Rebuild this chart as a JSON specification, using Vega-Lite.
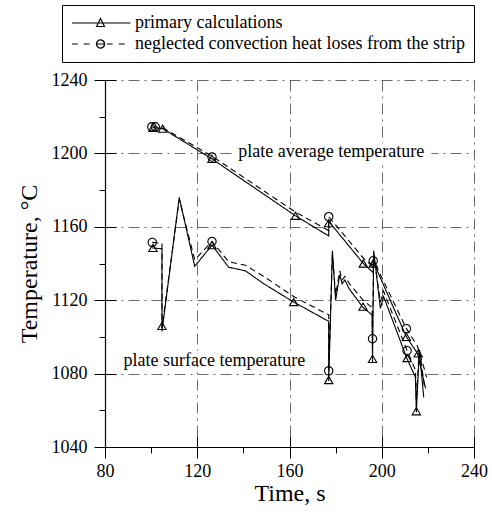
{
  "$schema": "https://vega.github.io/schema/vega-lite/v6.json",
  "width": 369,
  "height": 367,
  "autosize": "none",
  "padding": {"left": 105, "top": 80, "right": 18, "bottom": 67},
  "background": "white",
  "config": {
    "font": "Liberation Serif",
    "view": {"stroke": null},
    "axis": {"labelFont": "Liberation Serif", "titleFont": "Liberation Serif", "labelColor": "black", "titleColor": "black", "tickColor": "black", "domainColor": "black"},
    "legend": {"labelFont": "Liberation Serif", "labelFontSize": 18, "labelColor": "black"}
  },
  "datasets": {
    "lines": [
      {"s": "primary calculations", "c": "avg", "i": 1, "t": 100.5, "T": 1214},
      {"s": "primary calculations", "c": "avg", "i": 2, "t": 105, "T": 1213.5},
      {"s": "primary calculations", "c": "avg", "i": 3, "t": 126.4, "T": 1197},
      {"s": "primary calculations", "c": "avg", "i": 4, "t": 162.6, "T": 1166},
      {"s": "primary calculations", "c": "avg", "i": 5, "t": 177, "T": 1155},
      {"s": "primary calculations", "c": "avg", "i": 6, "t": 177, "T": 1163},
      {"s": "primary calculations", "c": "avg", "i": 7, "t": 192, "T": 1140},
      {"s": "primary calculations", "c": "avg", "i": 8, "t": 196.3, "T": 1135},
      {"s": "primary calculations", "c": "avg", "i": 9, "t": 196.3, "T": 1141},
      {"s": "primary calculations", "c": "avg", "i": 10, "t": 210.7, "T": 1100},
      {"s": "primary calculations", "c": "avg", "i": 11, "t": 215.5, "T": 1091},
      {"s": "primary calculations", "c": "avg", "i": 12, "t": 219, "T": 1072},
      {"s": "neglected convection heat loses from the strip", "c": "avg", "i": 1, "t": 100.5, "T": 1214.5},
      {"s": "neglected convection heat loses from the strip", "c": "avg", "i": 2, "t": 105, "T": 1214},
      {"s": "neglected convection heat loses from the strip", "c": "avg", "i": 3, "t": 126.4, "T": 1198.5},
      {"s": "neglected convection heat loses from the strip", "c": "avg", "i": 4, "t": 162.6, "T": 1168},
      {"s": "neglected convection heat loses from the strip", "c": "avg", "i": 5, "t": 177, "T": 1158},
      {"s": "neglected convection heat loses from the strip", "c": "avg", "i": 6, "t": 177, "T": 1165.5},
      {"s": "neglected convection heat loses from the strip", "c": "avg", "i": 7, "t": 192, "T": 1143},
      {"s": "neglected convection heat loses from the strip", "c": "avg", "i": 8, "t": 196.3, "T": 1138},
      {"s": "neglected convection heat loses from the strip", "c": "avg", "i": 9, "t": 196.3, "T": 1142},
      {"s": "neglected convection heat loses from the strip", "c": "avg", "i": 10, "t": 210.7, "T": 1104.5},
      {"s": "neglected convection heat loses from the strip", "c": "avg", "i": 11, "t": 215.5, "T": 1095},
      {"s": "neglected convection heat loses from the strip", "c": "avg", "i": 12, "t": 219.5, "T": 1078},
      {"s": "primary calculations", "c": "surf", "i": 1, "t": 100.5, "T": 1148.5},
      {"s": "primary calculations", "c": "surf", "i": 2, "t": 104.7, "T": 1148},
      {"s": "primary calculations", "c": "surf", "i": 3, "t": 104.7, "T": 1103},
      {"s": "primary calculations", "c": "surf", "i": 4, "t": 112.2, "T": 1176},
      {"s": "primary calculations", "c": "surf", "i": 5, "t": 118.9, "T": 1138.5},
      {"s": "primary calculations", "c": "surf", "i": 6, "t": 126.4, "T": 1150},
      {"s": "primary calculations", "c": "surf", "i": 7, "t": 133.6, "T": 1138},
      {"s": "primary calculations", "c": "surf", "i": 8, "t": 140.9, "T": 1136},
      {"s": "primary calculations", "c": "surf", "i": 9, "t": 148.8, "T": 1129},
      {"s": "primary calculations", "c": "surf", "i": 10, "t": 161.8, "T": 1119},
      {"s": "primary calculations", "c": "surf", "i": 11, "t": 177, "T": 1108.5},
      {"s": "primary calculations", "c": "surf", "i": 12, "t": 177, "T": 1076},
      {"s": "primary calculations", "c": "surf", "i": 13, "t": 178.6, "T": 1147},
      {"s": "primary calculations", "c": "surf", "i": 14, "t": 180, "T": 1120},
      {"s": "primary calculations", "c": "surf", "i": 15, "t": 181.8, "T": 1134},
      {"s": "primary calculations", "c": "surf", "i": 16, "t": 182.8, "T": 1129},
      {"s": "primary calculations", "c": "surf", "i": 17, "t": 184, "T": 1131},
      {"s": "primary calculations", "c": "surf", "i": 18, "t": 186, "T": 1126},
      {"s": "primary calculations", "c": "surf", "i": 19, "t": 191.9, "T": 1116},
      {"s": "primary calculations", "c": "surf", "i": 20, "t": 195.8, "T": 1112},
      {"s": "primary calculations", "c": "surf", "i": 21, "t": 196, "T": 1086},
      {"s": "primary calculations", "c": "surf", "i": 22, "t": 196.5, "T": 1147},
      {"s": "primary calculations", "c": "surf", "i": 23, "t": 199.4, "T": 1115.5},
      {"s": "primary calculations", "c": "surf", "i": 24, "t": 200.8, "T": 1122},
      {"s": "primary calculations", "c": "surf", "i": 25, "t": 202, "T": 1118},
      {"s": "primary calculations", "c": "surf", "i": 26, "t": 211, "T": 1088},
      {"s": "primary calculations", "c": "surf", "i": 27, "t": 214.6, "T": 1078},
      {"s": "primary calculations", "c": "surf", "i": 28, "t": 215, "T": 1059},
      {"s": "primary calculations", "c": "surf", "i": 29, "t": 216.3, "T": 1093},
      {"s": "primary calculations", "c": "surf", "i": 30, "t": 218.2, "T": 1067},
      {"s": "neglected convection heat loses from the strip", "c": "surf", "i": 1, "t": 100.5, "T": 1151.5},
      {"s": "neglected convection heat loses from the strip", "c": "surf", "i": 2, "t": 104.7, "T": 1151},
      {"s": "neglected convection heat loses from the strip", "c": "surf", "i": 3, "t": 104.7, "T": 1105},
      {"s": "neglected convection heat loses from the strip", "c": "surf", "i": 4, "t": 112.2, "T": 1175},
      {"s": "neglected convection heat loses from the strip", "c": "surf", "i": 5, "t": 118.9, "T": 1142},
      {"s": "neglected convection heat loses from the strip", "c": "surf", "i": 6, "t": 126.4, "T": 1152},
      {"s": "neglected convection heat loses from the strip", "c": "surf", "i": 7, "t": 133.6, "T": 1141},
      {"s": "neglected convection heat loses from the strip", "c": "surf", "i": 8, "t": 140.9, "T": 1139},
      {"s": "neglected convection heat loses from the strip", "c": "surf", "i": 9, "t": 148.8, "T": 1133},
      {"s": "neglected convection heat loses from the strip", "c": "surf", "i": 10, "t": 161.8, "T": 1122},
      {"s": "neglected convection heat loses from the strip", "c": "surf", "i": 11, "t": 177, "T": 1112},
      {"s": "neglected convection heat loses from the strip", "c": "surf", "i": 12, "t": 177, "T": 1081},
      {"s": "neglected convection heat loses from the strip", "c": "surf", "i": 13, "t": 178.6, "T": 1145},
      {"s": "neglected convection heat loses from the strip", "c": "surf", "i": 14, "t": 180, "T": 1123},
      {"s": "neglected convection heat loses from the strip", "c": "surf", "i": 15, "t": 181.8, "T": 1136},
      {"s": "neglected convection heat loses from the strip", "c": "surf", "i": 16, "t": 182.8, "T": 1131},
      {"s": "neglected convection heat loses from the strip", "c": "surf", "i": 17, "t": 184, "T": 1133},
      {"s": "neglected convection heat loses from the strip", "c": "surf", "i": 18, "t": 186, "T": 1129},
      {"s": "neglected convection heat loses from the strip", "c": "surf", "i": 19, "t": 191.9, "T": 1120},
      {"s": "neglected convection heat loses from the strip", "c": "surf", "i": 20, "t": 195.8, "T": 1116},
      {"s": "neglected convection heat loses from the strip", "c": "surf", "i": 21, "t": 196, "T": 1099},
      {"s": "neglected convection heat loses from the strip", "c": "surf", "i": 22, "t": 196.5, "T": 1145},
      {"s": "neglected convection heat loses from the strip", "c": "surf", "i": 23, "t": 199.4, "T": 1119},
      {"s": "neglected convection heat loses from the strip", "c": "surf", "i": 24, "t": 200.8, "T": 1125},
      {"s": "neglected convection heat loses from the strip", "c": "surf", "i": 25, "t": 202, "T": 1121},
      {"s": "neglected convection heat loses from the strip", "c": "surf", "i": 26, "t": 211, "T": 1092.5},
      {"s": "neglected convection heat loses from the strip", "c": "surf", "i": 27, "t": 214.6, "T": 1082},
      {"s": "neglected convection heat loses from the strip", "c": "surf", "i": 28, "t": 215, "T": 1066},
      {"s": "neglected convection heat loses from the strip", "c": "surf", "i": 29, "t": 216.3, "T": 1094},
      {"s": "neglected convection heat loses from the strip", "c": "surf", "i": 30, "t": 218.6, "T": 1072}
    ],
    "marks": [
      {"k": "P", "t": 100.8, "T": 1214},
      {"k": "P", "t": 105, "T": 1213.5},
      {"k": "P", "t": 126.4, "T": 1197},
      {"k": "P", "t": 162.6, "T": 1166},
      {"k": "P", "t": 177, "T": 1162},
      {"k": "P", "t": 192, "T": 1140},
      {"k": "P", "t": 196.3, "T": 1140},
      {"k": "P", "t": 210.7, "T": 1100},
      {"k": "P", "t": 215.8, "T": 1091},
      {"k": "P", "t": 100.8, "T": 1148.5},
      {"k": "P", "t": 104.7, "T": 1106},
      {"k": "P", "t": 126.4, "T": 1150},
      {"k": "P", "t": 161.8, "T": 1119},
      {"k": "P", "t": 177, "T": 1076.5},
      {"k": "P", "t": 191.9, "T": 1116.5},
      {"k": "P", "t": 196, "T": 1088},
      {"k": "P", "t": 211, "T": 1088.5},
      {"k": "P", "t": 215, "T": 1059.5},
      {"k": "N", "t": 100.3, "T": 1214.5},
      {"k": "N", "t": 101.8, "T": 1214.5},
      {"k": "N", "t": 126.4, "T": 1198},
      {"k": "N", "t": 177, "T": 1165.5},
      {"k": "N", "t": 196.3, "T": 1141.5},
      {"k": "N", "t": 210.7, "T": 1104.5},
      {"k": "N", "t": 100.5, "T": 1151.5},
      {"k": "N", "t": 126.4, "T": 1152},
      {"k": "N", "t": 177, "T": 1081.5},
      {"k": "N", "t": 196, "T": 1099},
      {"k": "N", "t": 211, "T": 1092.5}
    ],
    "notes": [
      {"label": "plate average temperature", "t": 137.8, "T": 1200.5},
      {"label": "plate surface temperature", "t": 88, "T": 1087}
    ],
    "boxes": [
      {"t0": 136, "t1": 221.5, "T0": 1195.5, "T1": 1205.5},
      {"t0": 87, "t1": 170, "T0": 1084, "T1": 1092.5}
    ]
  },
  "layer": [
    {
      "data": {"name": "boxes"},
      "mark": {"type": "rect", "fill": "white"},
      "encoding": {
        "x": {"field": "t0", "type": "quantitative", "scale": {"domain": [80, 240], "nice": false, "zero": false},
              "axis": {"orient": "bottom", "values": [100, 140, 180, 220], "tickSize": 6, "labels": false, "domain": false, "grid": false, "title": null}},
        "x2": {"field": "t1"},
        "y": {"field": "T0", "type": "quantitative", "scale": {"domain": [1040, 1240], "nice": false, "zero": false},
              "axis": {"orient": "left", "values": [1060, 1100, 1140, 1180, 1220], "tickSize": 6, "labels": false, "domain": false, "grid": false, "title": null}},
        "y2": {"field": "T1"}
      }
    },
    {
      "data": {"name": "lines"},
      "mark": {"type": "line", "color": "black", "strokeWidth": 1.1},
      "encoding": {
        "x": {"field": "t", "type": "quantitative",
              "axis": {"orient": "bottom", "values": [80, 120, 160, 200, 240], "format": "d", "title": "Time, s", "grid": true, "gridDash": [11, 5, 2, 5], "gridColor": "#6a6a6a", "gridWidth": 1, "tickSize": 11, "domainWidth": 1.2, "labelFontSize": 18, "labelPadding": 4, "titleFontSize": 24, "titleFontWeight": "normal", "titlePadding": 1, "labelFlush": false}},
        "y": {"field": "T", "type": "quantitative",
              "axis": {"orient": "left", "values": [1040, 1080, 1120, 1160, 1200, 1240], "format": "d", "title": "Temperature, °C", "grid": true, "gridDash": [11, 5, 2, 5], "gridColor": "#6a6a6a", "gridWidth": 1, "tickSize": 11, "domainWidth": 1.2, "labelFontSize": 18, "labelPadding": 7, "titleFontSize": 24, "titleFontWeight": "normal", "titlePadding": 10, "labelFlush": false}},
        "strokeDash": {"field": "s", "type": "nominal",
                       "scale": {"domain": ["primary calculations", "neglected convection heat loses from the strip"], "range": [[1, 0], [6, 4]]},
                       "legend": {
                    "orient": "none", "legendX": -43, "legendY": -75, "title": null,
                    "strokeColor": "black", "padding": 9, "labelFontSize": 18, "labelFont": "Liberation Serif", "labelColor": "black",
                    "symbolSize": 100, "labelOffset": 46, "rowPadding": 3, "labelLimit": 0,
                    "symbolStrokeColor": "black", "symbolStrokeWidth": 1.2, "symbolFillColor": "transparent",
                    "symbolType": {"expr": "datum.value === 'primary calculations' ? 'M-1.6,0H10.1M4.1,-0.9L4.9,0.7L3.3,0.7Z' : 'M-1.6,0H-0.46M0.74,0H1.94M5.34,0H6.54M7.74,0H8.94M3.3,0H4.1M4.1,0H4.9M4.9,0A0.8,0.8,0,0,1,4.347,0.761M4.347,0.761A0.8,0.8,0,0,1,3.453,0.47M3.453,0.47A0.8,0.8,0,0,1,3.453,-0.47M3.453,-0.47A0.8,0.8,0,0,1,4.347,-0.761M4.347,-0.761A0.8,0.8,0,0,1,4.9,0'"}
                  }},
        "detail": {"field": "c"},
        "order": {"field": "i", "type": "quantitative"}
      }
    },
    {
      "data": {"name": "marks"},
      "mark": {"type": "point", "filled": false, "color": "black", "strokeWidth": 1.1, "size": 70, "opacity": 1},
      "encoding": {
        "x": {"field": "t", "type": "quantitative",
              "axis": {"orient": "bottom", "values": [80, 120, 160, 200, 240], "tickSize": -11, "labels": false, "domain": false, "grid": false, "title": null}},
        "y": {"field": "T", "type": "quantitative",
              "axis": {"orient": "left", "values": [1040, 1080, 1120, 1160, 1200, 1240], "tickSize": -11, "labels": false, "domain": false, "grid": false, "title": null}},
        "shape": {"field": "k", "type": "nominal",
                  "scale": {"domain": ["P", "N"], "range": ["triangle-up", "circle"]},
                  "legend": null}
      }
    },
    {
      "data": {"name": "notes"},
      "mark": {"type": "text", "align": "left", "baseline": "middle", "fontSize": 18, "font": "Liberation Serif", "color": "black"},
      "encoding": {
        "x": {"field": "t", "type": "quantitative", "axis": null},
        "y": {"field": "T", "type": "quantitative", "axis": null},
        "text": {"field": "label"}
      }
    }
  ],
  "resolve": {"axis": {"x": "independent", "y": "independent"}}
}
